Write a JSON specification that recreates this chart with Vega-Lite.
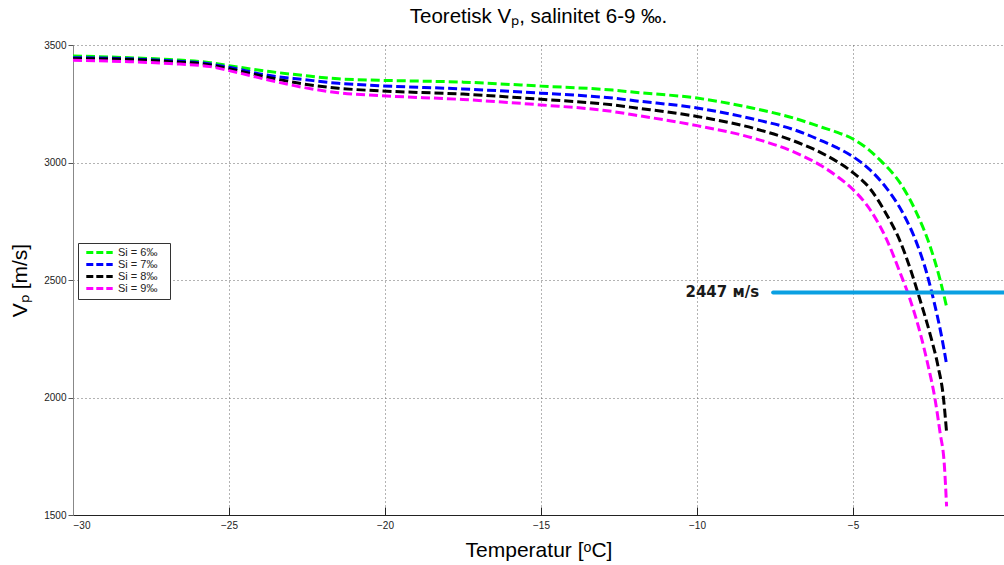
{
  "$schema": "https://vega.github.io/schema/vega-lite/v6.json",
  "width": 931,
  "height": 470,
  "autosize": {"type": "none"},
  "padding": {"left": 73, "top": 45, "right": 0, "bottom": 50},
  "background": "white",
  "title": {
    "text": "Teoretisk Vₚ, salinitet 6-9 ‰.",
    "font": "Liberation Sans",
    "fontSize": 20.5,
    "fontWeight": "normal",
    "color": "#000000",
    "anchor": "middle",
    "offset": 13
  },
  "config": {
    "view": {"stroke": null},
    "axis": {
      "labelFont": "Liberation Sans",
      "labelFontSize": 10,
      "labelColor": "#222222",
      "titleFont": "Liberation Sans",
      "titleFontSize": 21,
      "titleFontWeight": "normal",
      "titleColor": "#000000",
      "grid": true,
      "gridDash": [1, 3],
      "gridColor": "#666666",
      "gridWidth": 1
    }
  },
  "datasets": {
    "curves": [
      {"S": "Si = 6‰", "T": -30, "V": 3453}, {"S": "Si = 6‰", "T": -28.2, "V": 3446},
      {"S": "Si = 6‰", "T": -26.9, "V": 3438}, {"S": "Si = 6‰", "T": -25.6, "V": 3425},
      {"S": "Si = 6‰", "T": -25, "V": 3412}, {"S": "Si = 6‰", "T": -23.7, "V": 3387},
      {"S": "Si = 6‰", "T": -22.6, "V": 3370}, {"S": "Si = 6‰", "T": -21.5, "V": 3356},
      {"S": "Si = 6‰", "T": -20.2, "V": 3350}, {"S": "Si = 6‰", "T": -17.5, "V": 3342},
      {"S": "Si = 6‰", "T": -15, "V": 3325}, {"S": "Si = 6‰", "T": -12.7, "V": 3308},
      {"S": "Si = 6‰", "T": -12, "V": 3299}, {"S": "Si = 6‰", "T": -10, "V": 3274},
      {"S": "Si = 6‰", "T": -8.2, "V": 3231}, {"S": "Si = 6‰", "T": -6.9, "V": 3189},
      {"S": "Si = 6‰", "T": -6, "V": 3150}, {"S": "Si = 6‰", "T": -5.5, "V": 3128},
      {"S": "Si = 6‰", "T": -5, "V": 3100}, {"S": "Si = 6‰", "T": -4.5, "V": 3055},
      {"S": "Si = 6‰", "T": -4.13, "V": 3010}, {"S": "Si = 6‰", "T": -3.49, "V": 2913},
      {"S": "Si = 6‰", "T": -2.96, "V": 2785}, {"S": "Si = 6‰", "T": -2.53, "V": 2644},
      {"S": "Si = 6‰", "T": -2.21, "V": 2502}, {"S": "Si = 6‰", "T": -2, "V": 2386},

      {"S": "Si = 7‰", "T": -30, "V": 3446}, {"S": "Si = 7‰", "T": -28.2, "V": 3441},
      {"S": "Si = 7‰", "T": -26.9, "V": 3433}, {"S": "Si = 7‰", "T": -25.6, "V": 3419},
      {"S": "Si = 7‰", "T": -25, "V": 3405}, {"S": "Si = 7‰", "T": -23.7, "V": 3370},
      {"S": "Si = 7‰", "T": -22.6, "V": 3353}, {"S": "Si = 7‰", "T": -21.5, "V": 3337},
      {"S": "Si = 7‰", "T": -20.2, "V": 3327}, {"S": "Si = 7‰", "T": -17.5, "V": 3313},
      {"S": "Si = 7‰", "T": -15, "V": 3295}, {"S": "Si = 7‰", "T": -12.7, "V": 3274},
      {"S": "Si = 7‰", "T": -12, "V": 3263}, {"S": "Si = 7‰", "T": -10, "V": 3232},
      {"S": "Si = 7‰", "T": -8.2, "V": 3185}, {"S": "Si = 7‰", "T": -6.9, "V": 3140},
      {"S": "Si = 7‰", "T": -6, "V": 3092}, {"S": "Si = 7‰", "T": -5.5, "V": 3062},
      {"S": "Si = 7‰", "T": -5, "V": 3025}, {"S": "Si = 7‰", "T": -4.45, "V": 2968},
      {"S": "Si = 7‰", "T": -3.92, "V": 2890}, {"S": "Si = 7‰", "T": -3.39, "V": 2782},
      {"S": "Si = 7‰", "T": -2.96, "V": 2658}, {"S": "Si = 7‰", "T": -2.64, "V": 2531},
      {"S": "Si = 7‰", "T": -2.37, "V": 2389}, {"S": "Si = 7‰", "T": -2.16, "V": 2260},
      {"S": "Si = 7‰", "T": -2, "V": 2141},

      {"S": "Si = 8‰", "T": -30, "V": 3442}, {"S": "Si = 8‰", "T": -28.2, "V": 3438},
      {"S": "Si = 8‰", "T": -26.9, "V": 3429}, {"S": "Si = 8‰", "T": -25.6, "V": 3415},
      {"S": "Si = 8‰", "T": -25, "V": 3399}, {"S": "Si = 8‰", "T": -23.7, "V": 3361},
      {"S": "Si = 8‰", "T": -22.6, "V": 3334}, {"S": "Si = 8‰", "T": -21.5, "V": 3316},
      {"S": "Si = 8‰", "T": -20.2, "V": 3305}, {"S": "Si = 8‰", "T": -17.5, "V": 3291},
      {"S": "Si = 8‰", "T": -15, "V": 3269}, {"S": "Si = 8‰", "T": -12.7, "V": 3245},
      {"S": "Si = 8‰", "T": -12, "V": 3233}, {"S": "Si = 8‰", "T": -10, "V": 3196},
      {"S": "Si = 8‰", "T": -8.2, "V": 3146}, {"S": "Si = 8‰", "T": -6.9, "V": 3092},
      {"S": "Si = 8‰", "T": -6, "V": 3040}, {"S": "Si = 8‰", "T": -5.5, "V": 3003},
      {"S": "Si = 8‰", "T": -5, "V": 2957}, {"S": "Si = 8‰", "T": -4.45, "V": 2888},
      {"S": "Si = 8‰", "T": -3.92, "V": 2778}, {"S": "Si = 8‰", "T": -3.49, "V": 2665},
      {"S": "Si = 8‰", "T": -3.17, "V": 2550}, {"S": "Si = 8‰", "T": -2.85, "V": 2415},
      {"S": "Si = 8‰", "T": -2.53, "V": 2270}, {"S": "Si = 8‰", "T": -2.27, "V": 2130},
      {"S": "Si = 8‰", "T": -2.11, "V": 2010}, {"S": "Si = 8‰", "T": -2, "V": 1851},

      {"S": "Si = 9‰", "T": -30, "V": 3435}, {"S": "Si = 9‰", "T": -28.2, "V": 3429},
      {"S": "Si = 9‰", "T": -26.9, "V": 3421}, {"S": "Si = 9‰", "T": -25.6, "V": 3408},
      {"S": "Si = 9‰", "T": -25, "V": 3391}, {"S": "Si = 9‰", "T": -23.7, "V": 3350},
      {"S": "Si = 9‰", "T": -22.6, "V": 3319}, {"S": "Si = 9‰", "T": -21.5, "V": 3297},
      {"S": "Si = 9‰", "T": -20.2, "V": 3285}, {"S": "Si = 9‰", "T": -17.5, "V": 3268},
      {"S": "Si = 9‰", "T": -15, "V": 3245}, {"S": "Si = 9‰", "T": -12.7, "V": 3217},
      {"S": "Si = 9‰", "T": -12, "V": 3202}, {"S": "Si = 9‰", "T": -10, "V": 3157},
      {"S": "Si = 9‰", "T": -8.2, "V": 3104}, {"S": "Si = 9‰", "T": -6.9, "V": 3045},
      {"S": "Si = 9‰", "T": -6, "V": 2985}, {"S": "Si = 9‰", "T": -5.5, "V": 2940},
      {"S": "Si = 9‰", "T": -5, "V": 2885}, {"S": "Si = 9‰", "T": -4.45, "V": 2799},
      {"S": "Si = 9‰", "T": -3.92, "V": 2672}, {"S": "Si = 9‰", "T": -3.49, "V": 2531},
      {"S": "Si = 9‰", "T": -3.17, "V": 2417}, {"S": "Si = 9‰", "T": -2.85, "V": 2276},
      {"S": "Si = 9‰", "T": -2.59, "V": 2134}, {"S": "Si = 9‰", "T": -2.37, "V": 1993},
      {"S": "Si = 9‰", "T": -2.21, "V": 1851}, {"S": "Si = 9‰", "T": -2.07, "V": 1709},
      {"S": "Si = 9‰", "T": -2, "V": 1537}
    ],
    "marker": [
      {"T0": -7.56, "T1": 0, "V": 2447, "label": "2447 м/s"}
    ]
  },
  "layer": [
    {
      "data": {"name": "curves"},
      "mark": {
        "type": "line",
        "strokeWidth": 3,
        "strokeDash": [9, 4],
        "interpolate": "monotone",
        "clip": true
      },
      "encoding": {
        "x": {
          "field": "T",
          "type": "quantitative",
          "scale": {"domain": [-30, -0.16], "nice": false, "zero": false},
          "axis": {
            "values": [-30, -25, -20, -15, -10, -5],
            "format": "d",
            "title": "Temperatur [ᵒC]",
            "tickSize": -8,
            "tickColor": "#222222",
            "domainColor": "#222222",
            "labelPadding": 13,
            "titlePadding": 9
          }
        },
        "y": {
          "field": "V",
          "type": "quantitative",
          "scale": {"domain": [1500, 3500], "nice": false, "zero": false},
          "axis": {
            "values": [1500, 2000, 2500, 3000, 3500],
            "format": "d",
            "title": "Vₚ [m/s]",
            "tickSize": 5,
            "tickColor": "#555555",
            "domainColor": "#888888",
            "labelPadding": 2,
            "titlePadding": 13
          }
        },
        "color": {
          "field": "S",
          "type": "nominal",
          "scale": {
            "domain": ["Si = 6‰", "Si = 7‰", "Si = 8‰", "Si = 9‰"],
            "range": ["#00ff00", "#0000ff", "#000000", "#ff00ff"]
          },
          "legend": {
            "orient": "none",
            "legendX": 5,
            "legendY": 198,
            "title": null,
            "symbolType": "M-3.3,0H3.3",
            "symbolSize": 64,
            "symbolStrokeWidth": 3,
            "symbolDash": [7, 3],
            "symbolOffset": 12,
            "labelOffset": 13,
            "labelFont": "Liberation Sans",
            "labelFontSize": 11,
            "labelColor": "#222222",
            "labelExpr": "datum.label + '\u2800'",
            "rowPadding": -2,
            "padding": 4,
            "strokeColor": "#333333",
            "fillColor": "#ffffff"
          }
        }
      }
    },
    {
      "data": {"name": "marker"},
      "mark": {"type": "rule", "color": "#0aa0e2", "strokeWidth": 4, "strokeCap": "round", "clip": true},
      "encoding": {
        "x": {"field": "T0", "type": "quantitative"},
        "x2": {"field": "T1"},
        "y": {"field": "V", "type": "quantitative"}
      }
    },
    {
      "data": {"name": "marker"},
      "mark": {
        "type": "text",
        "align": "right",
        "baseline": "middle",
        "dx": -14,
        "font": "DejaVu Sans",
        "fontWeight": "bold",
        "fontSize": 15,
        "color": "#1a1a1a"
      },
      "encoding": {
        "x": {"field": "T0", "type": "quantitative"},
        "y": {"field": "V", "type": "quantitative"},
        "text": {"field": "label"}
      }
    }
  ]
}
